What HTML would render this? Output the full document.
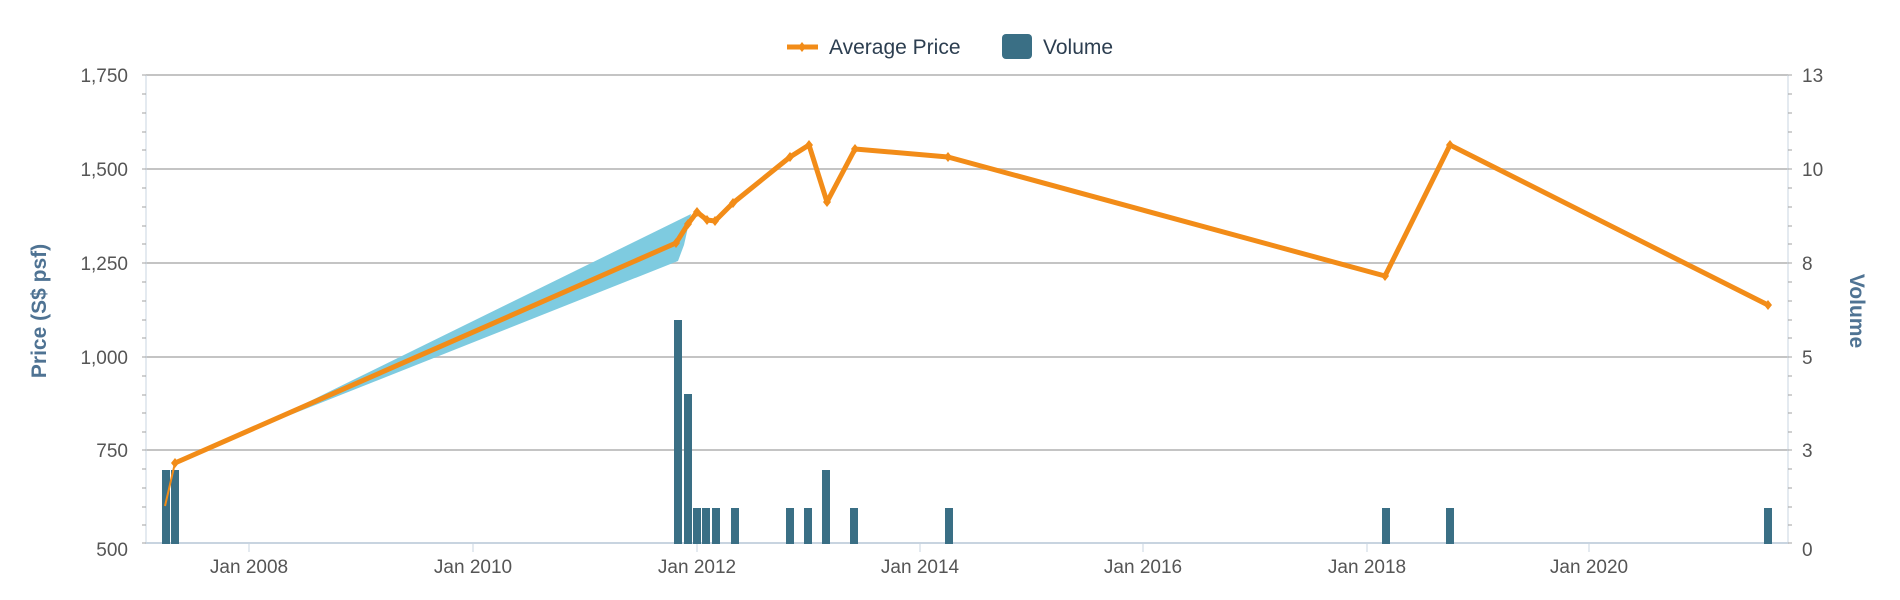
<!DOCTYPE html>
<html><head><meta charset="utf-8"><style>
html,body{margin:0;padding:0;background:#fff;}
svg{display:block;font-family:"Liberation Sans",sans-serif;}
</style></head><body>
<svg width="1900" height="600" viewBox="0 0 1900 600" xmlns="http://www.w3.org/2000/svg">
<g stroke="#c4c4c4" stroke-width="2">
<line x1="146" y1="75" x2="1788" y2="75"/>
<line x1="146" y1="169" x2="1788" y2="169"/>
<line x1="146" y1="263" x2="1788" y2="263"/>
<line x1="146" y1="357" x2="1788" y2="357"/>
<line x1="146" y1="450" x2="1788" y2="450"/>
</g>
<line x1="146" y1="543" x2="1788" y2="543" stroke="#c8d4e0" stroke-width="2"/>
<line x1="146" y1="75" x2="146" y2="544" stroke="#c8d4e0" stroke-width="1"/>
<line x1="1788" y1="75" x2="1788" y2="544" stroke="#c8d4e0" stroke-width="1"/>
<g stroke="#a0a0a0" stroke-width="1">
<path d="M142 94h4M142 113h4M142 132h4M142 150h4M142 188h4M142 207h4M142 226h4M142 244h4M142 282h4M142 301h4M142 320h4M142 338h4M142 376h4M142 395h4M142 413h4M142 432h4M142 469h4M142 488h4M142 507h4M142 525h4M142 75h4M142 169h4M142 263h4M142 357h4M142 450h4M142 543h4"/>
<path d="M1788 94h4M1788 113h4M1788 132h4M1788 150h4M1788 188h4M1788 207h4M1788 226h4M1788 244h4M1788 282h4M1788 301h4M1788 320h4M1788 338h4M1788 376h4M1788 395h4M1788 413h4M1788 432h4M1788 469h4M1788 488h4M1788 507h4M1788 525h4M1788 75h4M1788 169h4M1788 263h4M1788 357h4M1788 450h4M1788 543h4"/>
</g>
<g stroke="#c8d4e0" stroke-width="1">
<path d="M249 544v8M473 544v8M697 544v8M920 544v8M1143 544v8M1367 544v8M1589 544v8"/>
</g>
<g font-size="19" fill="#555" text-anchor="end">
<text x="128" y="82">1,750</text>
<text x="128" y="176">1,500</text>
<text x="128" y="270">1,250</text>
<text x="128" y="364">1,000</text>
<text x="128" y="457">750</text>
<text x="128" y="556">500</text>
</g>
<g font-size="19" fill="#555" text-anchor="start">
<text x="1802" y="82">13</text>
<text x="1802" y="176">10</text>
<text x="1802" y="270">8</text>
<text x="1802" y="364">5</text>
<text x="1802" y="457">3</text>
<text x="1802" y="556">0</text>
</g>
<g font-size="19" fill="#555" text-anchor="middle">
<text x="249" y="573">Jan 2008</text>
<text x="473" y="573">Jan 2010</text>
<text x="697" y="573">Jan 2012</text>
<text x="920" y="573">Jan 2014</text>
<text x="1143" y="573">Jan 2016</text>
<text x="1367" y="573">Jan 2018</text>
<text x="1589" y="573">Jan 2020</text>
</g>
<text transform="translate(46,311) rotate(-90)" text-anchor="middle" font-size="21" font-weight="bold" fill="#4f7393">Price (S$ psf)</text>
<text transform="translate(1850,311) rotate(90)" text-anchor="middle" font-size="21" font-weight="bold" fill="#4f7393">Volume</text>
<line x1="787" y1="47" x2="818" y2="47" stroke="#f28c18" stroke-width="5"/>
<path d="M802 42l4 5-4 5-4-5z" fill="#f28c18"/>
<text x="829" y="54" font-size="21" fill="#2c3e50">Average Price</text>
<rect x="1002" y="34" width="30" height="25" rx="4" fill="#3a6f85"/>
<text x="1043" y="54" font-size="21" fill="#2c3e50">Volume</text>
<polygon points="245,433 691,214 684,245 678,261" fill="#7ecbe0"/>
<g fill="#3a6f85">
<rect x="162" y="470" width="8" height="74"/>
<rect x="171" y="470" width="8" height="74"/>
<rect x="674" y="320" width="8" height="224"/>
<rect x="684" y="394" width="8" height="150"/>
<rect x="693" y="508" width="8" height="36"/>
<rect x="702" y="508" width="8" height="36"/>
<rect x="712" y="508" width="8" height="36"/>
<rect x="731" y="508" width="8" height="36"/>
<rect x="786" y="508" width="8" height="36"/>
<rect x="804" y="508" width="8" height="36"/>
<rect x="822" y="470" width="8" height="74"/>
<rect x="850" y="508" width="8" height="36"/>
<rect x="945" y="508" width="8" height="36"/>
<rect x="1382" y="508" width="8" height="36"/>
<rect x="1446" y="508" width="8" height="36"/>
<rect x="1764" y="508" width="8" height="36"/>
</g>
<polyline points="165,506 175,463" fill="none" stroke="#f28c18" stroke-width="2"/>
<polyline points="175,463 676,243 688,224 697,212 707,220 715,221 733,203 790,157 809,145 827,202 855,149 948,157 1385,276 1450,145 1768,305" fill="none" stroke="#f28c18" stroke-width="5" stroke-linejoin="round"/>
<g fill="#f28c18">
<path d="M175 458l4 5-4 5-4-5zM676 238l4 5-4 5-4-5zM688 219l4 5-4 5-4-5zM697 207l4 5-4 5-4-5zM707 215l4 5-4 5-4-5zM715 216l4 5-4 5-4-5zM733 198l4 5-4 5-4-5zM790 152l4 5-4 5-4-5zM809 140l4 5-4 5-4-5zM827 197l4 5-4 5-4-5zM855 144l4 5-4 5-4-5zM948 152l4 5-4 5-4-5zM1385 271l4 5-4 5-4-5zM1450 140l4 5-4 5-4-5zM1768 300l4 5-4 5-4-5z"/>
</g>
</svg>
</body></html>
